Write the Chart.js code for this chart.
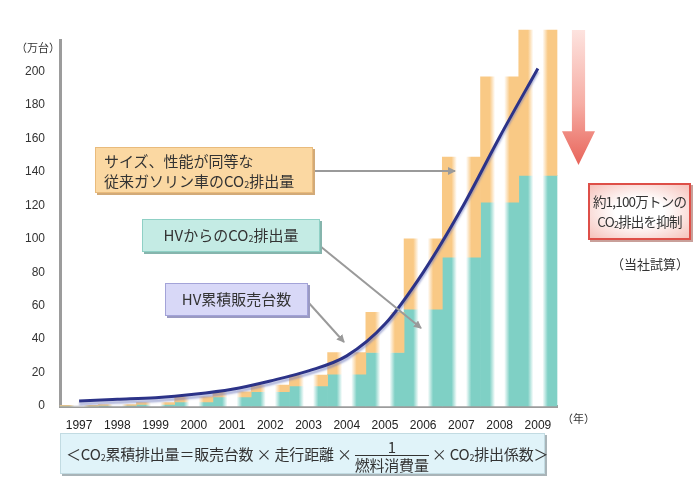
<!DOCTYPE html>
<html>
<head>
<meta charset="utf-8">
<script src="https://cdn.jsdelivr.net/npm/chart.js@4.4.1/dist/chart.umd.min.js"></script>
<style>
  body { margin: 0; background: #fff; }
  #wrap { position: relative; width: 700px; height: 491px; overflow: hidden; font-family: "Noto Sans CJK JP", sans-serif; color: #333; }
  #chart { position: absolute; left: 0; top: 0; }
  .box { position: absolute; box-sizing: border-box; font-size: 15px; line-height: 20px; white-space: nowrap; }
  .orange { left: 95px; top: 147px; width: 218px; height: 46px; background: #fbd8a2; border: 1px solid #e9bb7c; box-shadow: 2px 2px 0 #d2aa78; padding: 3px 0 0 8px; }
  .teal { left: 142px; top: 219px; width: 178px; height: 33px; background: #c4ebe4; border: 1px solid #8fd0c5; box-shadow: 2px 2px 0 #86b5ad; text-align: center; padding-top: 5px; }
  .purple { left: 165px; top: 283px; width: 143px; height: 33px; background: #d8d8f7; border: 1px solid #a3a3d8; box-shadow: 2px 2px 0 #9a9ac2; text-align: center; padding-top: 5px; }
  .red { left: 588px; top: 183px; width: 103px; height: 57px; background: radial-gradient(ellipse at center, #ffffff 35%, #f6c2bb 100%); border: 2px solid #de4f48; box-shadow: 2px 2px 0 #c9a09a; text-align: center; font-size: 13.5px; letter-spacing: -0.8px; padding-top: 6px; }
  .formula { left: 60px; top: 433px; width: 485px; height: 41px; background: #e0f3f9; border: 1px solid #c2dbe2; box-shadow: 2px 2px 0 #a9b4b8; font-size: 15px; letter-spacing: -0.2px; line-height: 39px; padding-left: 5px; }
  .frac { display: inline-block; vertical-align: middle; text-align: center; margin: 0 3px; line-height: 17px; }
  .frac span { display: block; }
  .frac .num { border-bottom: 1px solid #333; }
  sub { font-size: 9px; line-height: 0; vertical-align: -1px; }
  .note { position: absolute; font-size: 12px; color: #333; white-space: nowrap; }
  #bigArrow { position: absolute; left: 562px; top: 30px; width: 33px; height: 135px;
    background: linear-gradient(to bottom, #fde3df 0%, #f6ada4 55%, #e8645a 100%);
    clip-path: polygon(30% 0, 70% 0, 70% 75%, 100% 75%, 50% 100%, 0 75%, 30% 75%); }
  svg { position: absolute; left: 0; top: 0; pointer-events: none; }
</style>
</head>
<body>
<div id="wrap">
  <canvas id="chart" width="700" height="491"></canvas>
  <svg width="700" height="491">
    <defs>
      <marker id="head" markerWidth="8" markerHeight="8" refX="7" refY="4" orient="auto" markerUnits="userSpaceOnUse">
        <path d="M0,0 L8,4 L0,8 Z" fill="#9a9a9a"/>
      </marker>
    </defs>
    <line x1="313" y1="171" x2="455" y2="171" stroke="#9a9a9a" stroke-width="2" marker-end="url(#head)"/>
    <line x1="320" y1="246" x2="421" y2="328" stroke="#9a9a9a" stroke-width="2" marker-end="url(#head)"/>
    <line x1="308" y1="302" x2="344" y2="342" stroke="#9a9a9a" stroke-width="2" marker-end="url(#head)"/>
  </svg>
  <div class="note" style="left:16px; top:39px; font-size:11px;">（万台）</div>
  <div class="note" style="left:562px; top:410px; font-size:11px;">（年）</div>
  <div class="note" style="left:611px; top:254px; font-size:13px;">（当社試算）</div>
  <div id="bigArrow"></div>
  <div class="box orange">サイズ、性能が同等な<br>従来ガソリン車のCO<sub>2</sub>排出量</div>
  <div class="box teal">HVからのCO<sub>2</sub>排出量</div>
  <div class="box purple">HV累積販売台数</div>
  <div class="box red">約1,100万トンの<br>CO<sub>2</sub>排出を抑制</div>
  <div class="box formula"><span>＜CO<sub>2</sub>累積排出量＝販売台数 × 走行距離 ×</span><span class="frac"><span class="num">1</span><span>燃料消費量</span></span><span>× CO<sub>2</sub>排出係数＞</span></div>
</div>
<script>
const years = ['1997', '1998', '1999', '2000', '2001', '2002', '2003', '2004', '2005', '2006', '2007', '2008', '2009'];
// cumulative HV sales (万台)
const hvSales = [3, 4, 5, 7, 10, 15, 21, 30, 49, 80, 118, 161, 202];
// CO2 from HVs (teal) and from equivalent gasoline cars (orange top)
const hvCo2 = [0, 0.3, 1, 2.5, 5.5, 8.5, 12, 19, 32, 58, 89, 122, 138];
const gasCo2 = [0.3, 0.8, 2, 5.5, 8.5, 12.5, 18.5, 32, 56, 100, 149, 197, 225];
const yTicks = [0, 20, 40, 60, 80, 100, 120, 140, 160, 180, 200];

const ORANGE = '#f9c985';
const TEAL = '#7fd0c5';

Chart.defaults.font.family = '"Liberation Sans", "Noto Sans CJK JP", sans-serif';

// bars coloured at both edges of their slot, white in the middle
const stripes = {
    id: 'stripes',
    beforeDatasetsDraw(chart) {
        const ctx = chart.ctx;
        chart.data.datasets.forEach((ds, i) => {
            if (ds.type !== 'bar') return;
            chart.getDatasetMeta(i).data.forEach(el => {
                const l = el.x - el.width / 2, r = el.x + el.width / 2;
                const g = ctx.createLinearGradient(l, 0, r, 0);
                g.addColorStop(0, ds.stripeColor);
                g.addColorStop(0.24, ds.stripeColor);
                g.addColorStop(0.38, '#ffffff');
                g.addColorStop(0.62, '#ffffff');
                g.addColorStop(0.76, ds.stripeColor);
                g.addColorStop(1, ds.stripeColor);
                el.options = Object.assign({}, el.options, { backgroundColor: g });
            });
        });
    }
};

const lineShadow = {
    id: 'lineShadow',
    beforeDatasetDraw(chart, args) {
        if (args.index !== 0) return;
        const ctx = chart.ctx;
        ctx.save();
        ctx.shadowColor = 'rgba(110, 120, 190, 0.55)';
        ctx.shadowOffsetY = 3;
        ctx.shadowBlur = 2;
    },
    afterDatasetDraw(chart, args) {
        if (args.index !== 0) return;
        chart.ctx.restore();
    }
};

new Chart(document.getElementById('chart'), {
    data: {
        labels: years,
        datasets: [{
                type: 'line',
                data: hvSales,
                borderColor: '#2c3388',
                borderWidth: 3,
                pointRadius: 0,
                cubicInterpolationMode: 'monotone',
                order: 0
            }, {
                type: 'bar',
                data: hvCo2.map((v, i) => [v, gasCo2[i]]),
                backgroundColor: ORANGE,
                stripeColor: ORANGE,
                grouped: false,
                barPercentage: 1,
                categoryPercentage: 1,
                clip: false,
                order: 1
            }, {
                type: 'bar',
                data: hvCo2,
                backgroundColor: TEAL,
                stripeColor: TEAL,
                grouped: false,
                barPercentage: 1,
                categoryPercentage: 1,
                clip: false,
                order: 2
            }]
    },
    options: {
        responsive: false,
        animation: false,
        layout: { padding: { left: 0, right: 143, top: 40, bottom: 55 } },
        plugins: { legend: { display: false }, tooltip: { enabled: false } },
        scales: {
            x: {
                offset: true,
                grid: { display: false },
                border: { color: '#9c9c9c', width: 3 },
                ticks: { color: '#222', font: { size: 12 }, padding: 4, maxRotation: 0 },
                afterFit: s => { s.height = 30; }
            },
            y: {
                min: 0,
                max: 219,
                grid: { display: false },
                border: { color: '#9c9c9c', width: 3 },
                afterBuildTicks: s => { s.ticks = yTicks.map(v => ({ value: v })); },
                ticks: { color: '#333', font: { size: 12 }, padding: 7 },
                afterFit: s => { s.width = 60; }
            }
        }
    },
    plugins: [stripes, lineShadow]
});
</script>
</body>
</html>
